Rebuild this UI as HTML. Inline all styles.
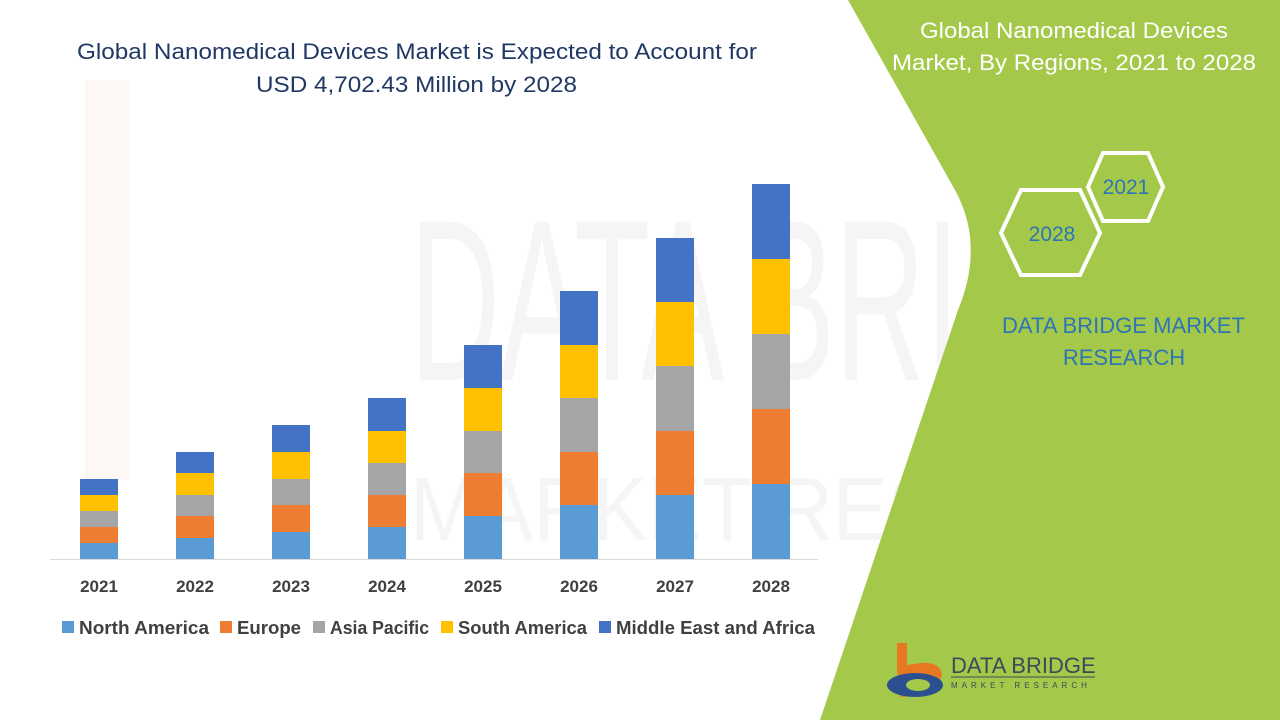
<!DOCTYPE html>
<html><head><meta charset="utf-8"><style>
html,body{margin:0;padding:0;background:#fff;}
</style></head><body>
<svg width="1280" height="720" viewBox="0 0 1280 720" xmlns="http://www.w3.org/2000/svg" font-family="Liberation Sans, sans-serif">
<rect width="1280" height="720" fill="#fff"/>
<g opacity="0.05">
<rect x="85" y="80" width="45" height="400" fill="#e07020"/>
<text x="410" y="380" font-size="230" fill="#555" textLength="820" lengthAdjust="spacingAndGlyphs">DATA BRIDGE</text>
<text x="410" y="540" font-size="90" fill="#555" textLength="820" lengthAdjust="spacingAndGlyphs">MARKET RESEARCH</text>
</g>
<path d="M848,0 L955,190 Q985,245 958,310 L820,720 L1280,720 L1280,0 Z" fill="#a4c94a"/>
<text x="77" y="59" font-size="22" fill="#1f3864" textLength="680" lengthAdjust="spacingAndGlyphs">Global Nanomedical Devices Market is Expected to Account for</text>
<text x="256" y="92" font-size="22" fill="#1f3864" textLength="321" lengthAdjust="spacingAndGlyphs">USD 4,702.43 Million by 2028</text>
<text x="920" y="38" font-size="22" fill="#fff" textLength="308" lengthAdjust="spacingAndGlyphs">Global Nanomedical Devices</text>
<text x="892" y="70" font-size="22" fill="#fff" textLength="364" lengthAdjust="spacingAndGlyphs">Market, By Regions, 2021 to 2028</text>
<polygon points="1088,187 1103,153 1148,153 1163,187 1148,221 1103,221" fill="none" stroke="#fff" stroke-width="4"/>
<polygon points="1001,233 1021,190 1080,190 1100,233 1080,275 1021,275" fill="none" stroke="#fff" stroke-width="4"/>
<text x="1126" y="194" font-size="21" fill="#2e75b6" text-anchor="middle">2021</text>
<text x="1052" y="241" font-size="21" fill="#2e75b6" text-anchor="middle">2028</text>
<text x="1002" y="333" font-size="22" fill="#2e75b6" textLength="243" lengthAdjust="spacingAndGlyphs">DATA BRIDGE MARKET</text>
<text x="1124" y="365" font-size="22" fill="#2e75b6" text-anchor="middle">RESEARCH</text>
<rect x="897" y="643" width="10" height="25" fill="#e87722"/>
<path d="M897,668 Q940,655 942,675 Q935,695 900,697 Z" fill="#e87722"/>
<ellipse cx="915" cy="685" rx="28" ry="12" fill="#2b4f8f"/>
<ellipse cx="918" cy="685" rx="12" ry="6" fill="#a4c94a"/>
<text x="951" y="673" font-size="22" fill="#3a4a5a">DATA BRIDGE</text>
<line x1="951" y1="677" x2="1095" y2="677" stroke="#3a4a5a" stroke-width="1"/>
<text x="951" y="688" font-size="8" fill="#3a4a5a" letter-spacing="4">MARKET RESEARCH</text>
<line x1="50" y1="559.5" x2="818" y2="559.5" stroke="#d9d9d9" stroke-width="1"/>
<g font-size="17" font-weight="bold" fill="#404040" text-anchor="middle">
<text x="99" y="592">2021</text><text x="195" y="592">2022</text><text x="291" y="592">2023</text><text x="387" y="592">2024</text>
<text x="483" y="592">2025</text><text x="579" y="592">2026</text><text x="675" y="592">2027</text><text x="771" y="592">2028</text>
</g>
<g font-size="18" font-weight="bold" fill="#404040">
<rect x="62" y="621" width="12" height="12" fill="#5b9bd5"/><text x="79" y="634" textLength="130" lengthAdjust="spacingAndGlyphs">North America</text>
<rect x="220" y="621" width="12" height="12" fill="#ed7d31"/><text x="237" y="634" textLength="64" lengthAdjust="spacingAndGlyphs">Europe</text>
<rect x="313" y="621" width="12" height="12" fill="#a5a5a5"/><text x="330" y="634" textLength="99" lengthAdjust="spacingAndGlyphs">Asia Pacific</text>
<rect x="441" y="621" width="12" height="12" fill="#ffc000"/><text x="458" y="634" textLength="129" lengthAdjust="spacingAndGlyphs">South America</text>
<rect x="599" y="621" width="12" height="12" fill="#4472c4"/><text x="616" y="634" textLength="199" lengthAdjust="spacingAndGlyphs">Middle East and Africa</text>
</g>
<g>
<rect x="80" y="543" width="38" height="16" fill="#5b9bd5"/><rect x="80" y="527" width="38" height="16" fill="#ed7d31"/><rect x="80" y="511" width="38" height="16" fill="#a5a5a5"/><rect x="80" y="495" width="38" height="16" fill="#ffc000"/><rect x="80" y="479" width="38" height="16" fill="#4472c4"/>
<rect x="176" y="538" width="38" height="21" fill="#5b9bd5"/><rect x="176" y="516" width="38" height="22" fill="#ed7d31"/><rect x="176" y="495" width="38" height="21" fill="#a5a5a5"/><rect x="176" y="473" width="38" height="22" fill="#ffc000"/><rect x="176" y="452" width="38" height="21" fill="#4472c4"/>
<rect x="272" y="532" width="38" height="27" fill="#5b9bd5"/><rect x="272" y="505" width="38" height="27" fill="#ed7d31"/><rect x="272" y="479" width="38" height="26" fill="#a5a5a5"/><rect x="272" y="452" width="38" height="27" fill="#ffc000"/><rect x="272" y="425" width="38" height="27" fill="#4472c4"/>
<rect x="368" y="527" width="38" height="32" fill="#5b9bd5"/><rect x="368" y="495" width="38" height="32" fill="#ed7d31"/><rect x="368" y="463" width="38" height="32" fill="#a5a5a5"/><rect x="368" y="431" width="38" height="32" fill="#ffc000"/><rect x="368" y="398" width="38" height="33" fill="#4472c4"/>
<rect x="464" y="516" width="38" height="43" fill="#5b9bd5"/><rect x="464" y="473" width="38" height="43" fill="#ed7d31"/><rect x="464" y="431" width="38" height="42" fill="#a5a5a5"/><rect x="464" y="388" width="38" height="43" fill="#ffc000"/><rect x="464" y="345" width="38" height="43" fill="#4472c4"/>
<rect x="560" y="505" width="38" height="54" fill="#5b9bd5"/><rect x="560" y="452" width="38" height="53" fill="#ed7d31"/><rect x="560" y="398" width="38" height="54" fill="#a5a5a5"/><rect x="560" y="345" width="38" height="53" fill="#ffc000"/><rect x="560" y="291" width="38" height="54" fill="#4472c4"/>
<rect x="656" y="495" width="38" height="64" fill="#5b9bd5"/><rect x="656" y="431" width="38" height="64" fill="#ed7d31"/><rect x="656" y="366" width="38" height="65" fill="#a5a5a5"/><rect x="656" y="302" width="38" height="64" fill="#ffc000"/><rect x="656" y="238" width="38" height="64" fill="#4472c4"/>
<rect x="752" y="484" width="38" height="75" fill="#5b9bd5"/><rect x="752" y="409" width="38" height="75" fill="#ed7d31"/><rect x="752" y="334" width="38" height="75" fill="#a5a5a5"/><rect x="752" y="259" width="38" height="75" fill="#ffc000"/><rect x="752" y="184" width="38" height="75" fill="#4472c4"/>
</g>
</svg>
</body></html>
